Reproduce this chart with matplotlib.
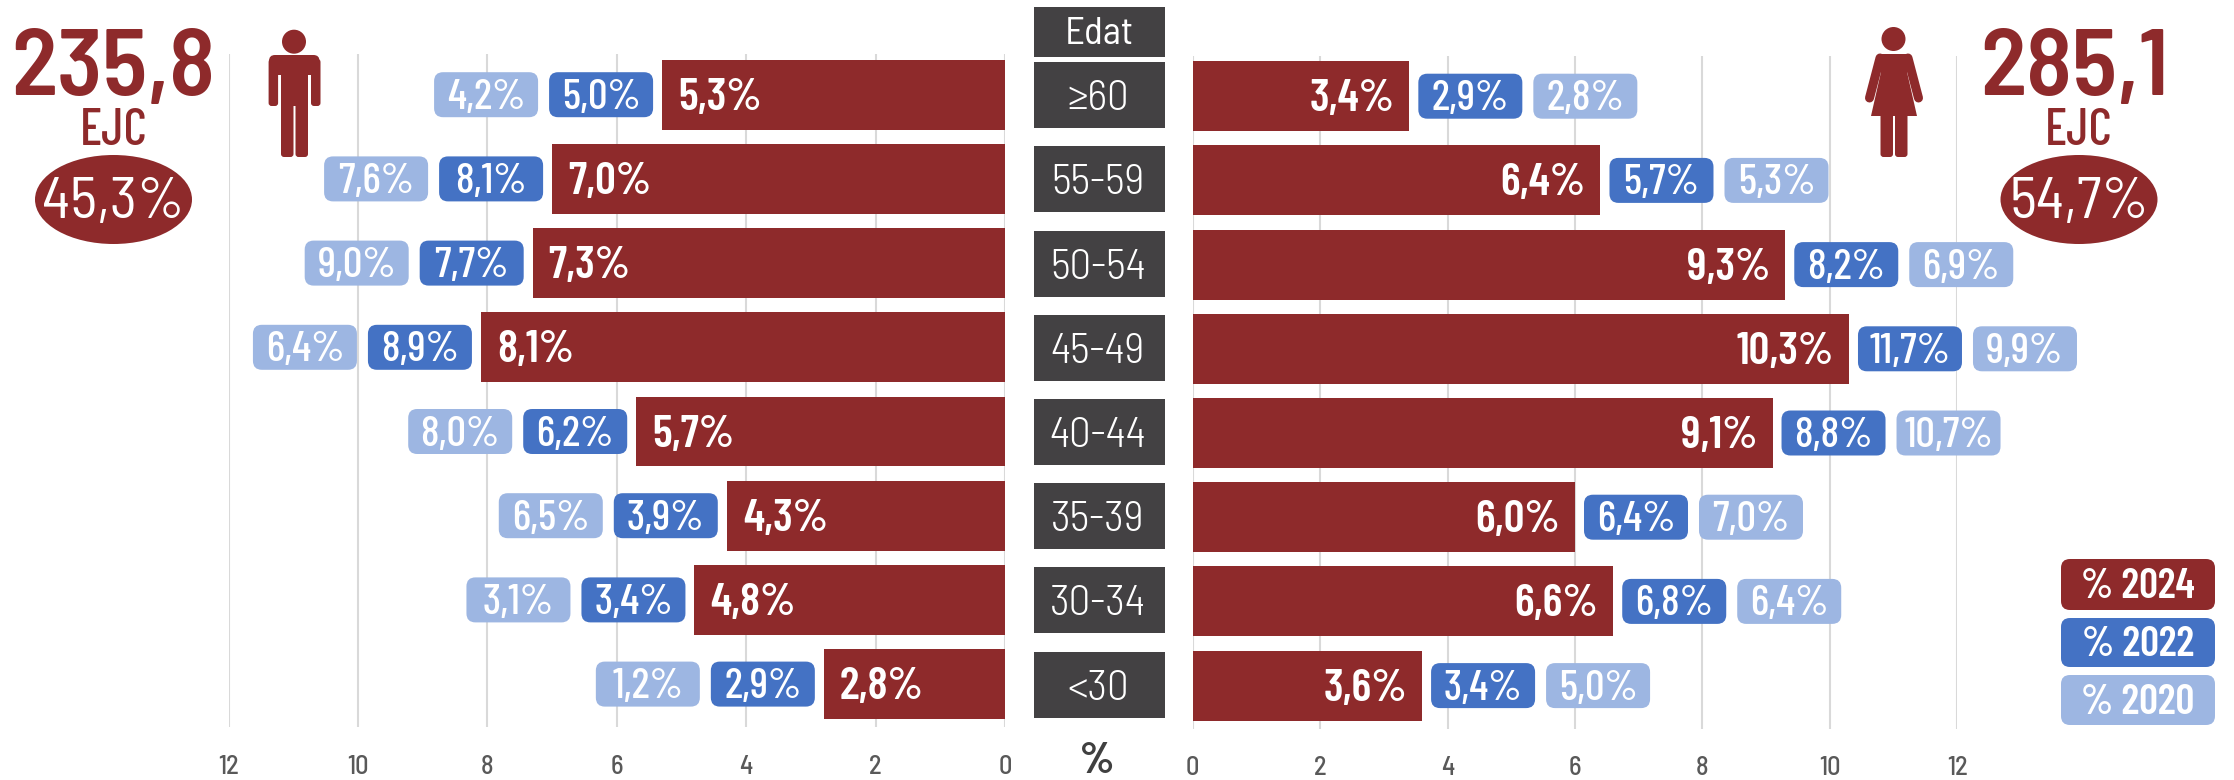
import matplotlib
matplotlib.use("Agg")
import matplotlib.pyplot as plt
from matplotlib.patches import FancyBboxPatch, Ellipse, Circle, Polygon, Rectangle

W, H = 2234, 780
RED = "#8E2A2B"
BLUE = "#4472C4"
LIGHT = "#9DB6E2"
DARK = "#434143"
GRID = "#D9D9D9"
plt.rcParams['font.family'] = ['Barlow Condensed', 'Liberation Sans', 'DejaVu Sans']
SEMI = ['Barlow Semi Condensed', 'Liberation Sans', 'DejaVu Sans']

# dades
edats = ["≥60", "55-59", "50-54", "45-49", "40-44", "35-39", "30-34", "<30"]
homes_2024 = [5.3, 7.0, 7.3, 8.1, 5.7, 4.3, 4.8, 2.8]
homes_2022 = [5.0, 8.1, 7.7, 8.9, 6.2, 3.9, 3.4, 2.9]
homes_2020 = [4.2, 7.6, 9.0, 6.4, 8.0, 6.5, 3.1, 1.2]
dones_2024 = [3.4, 6.4, 9.3, 10.3, 9.1, 6.0, 6.6, 3.6]
dones_2022 = [2.9, 5.7, 8.2, 11.7, 8.8, 6.4, 6.8, 3.4]
dones_2020 = [2.8, 5.3, 6.9, 9.9, 10.7, 7.0, 6.4, 5.0]
ticks = [0, 2, 4, 6, 8, 10, 12]
anys = ["% 2024", "% 2022", "% 2020"]
total_homes, total_dones = "235,8", "285,1"
pct_homes, pct_dones = "45,3%", "54,7%"


def fmt(v):
    return f"{v:.1f}".replace(".", ",") + "%"


fig = plt.figure(figsize=(W / 100, H / 100), dpi=100, facecolor="white")


def make_axes(x0, x1, top, bottom, xlim):
    ax = fig.add_axes([x0 / W, 1 - bottom / H, (x1 - x0) / W, (bottom - top) / H])
    ax.set_xlim(*xlim)
    row0 = top + 40.7
    ax.set_ylim((bottom - row0) / 84.2, (top - row0) / 84.2)
    ax.set_xticks(ticks)
    ax.set_yticks([])
    ax.tick_params(axis="x", length=0, pad=20, labelsize=19, labelcolor="#595959")
    for lab in ax.get_xticklabels():
        lab.set_fontfamily(SEMI)
        lab.set_fontweight(500)
    ax.grid(axis="x", color=GRID, lw=1.5)
    ax.set_axisbelow(True)
    for s in ax.spines.values():
        s.set_visible(False)
    return ax


ax_h = make_axes(228.6, 1005, 54, 727, (12, 0))
ax_d = make_axes(1192.7, 1957.3, 55.5, 728.5, (0, 12))

rows = range(len(edats))
ax_h.barh(rows, homes_2024, height=0.83, color=RED)
ax_d.barh(rows, dones_2024, height=0.83, color=RED)

# capa en pixels per a les etiquetes
ov = fig.add_axes([0, 0, 1, 1], facecolor="none")
ov.set_xlim(0, W)
ov.set_ylim(H, 0)
ov.axis("off")


def to_px(ax, v, i):
    x, y = ax.transData.transform((v, i))
    return x, H - y


def chip(x, yc, txt, col, w=104, h=45, size=31, weight=500):
    ov.add_patch(FancyBboxPatch((x + 7, yc - h / 2 + 7), w - 14, h - 14,
                                boxstyle="round,pad=7,rounding_size=9", fc=col, ec="none"))
    ov.text(x + w / 2, yc + 14, txt, color="white", ha="center", va="baseline", fontsize=size,
            fontweight=weight)


for i in rows:
    x, y = to_px(ax_h, homes_2024[i], i)
    ov.text(x + 16, y + 15, fmt(homes_2024[i]), color="white", fontsize=33, fontweight=600,
            ha="left", va="baseline")
    chip(x - 9 - 104, y, fmt(homes_2022[i]), BLUE)
    chip(x - 9 - 104 - 11 - 104, y, fmt(homes_2020[i]), LIGHT)

    x, y = to_px(ax_d, dones_2024[i], i)
    ov.text(x - 15, y + 15, fmt(dones_2024[i]), color="white", fontsize=33, fontweight=600,
            ha="right", va="baseline")
    chip(x + 9, y, fmt(dones_2022[i]), BLUE)
    chip(x + 9 + 104 + 11, y, fmt(dones_2020[i]), LIGHT)

    # caixa d'edat
    yc = 94.7 + 84.2 * i + 0.5
    ov.add_patch(Rectangle((1034, yc - 33), 131, 66, fc=DARK, ec="none"))
    ov.text(1098, yc + 15, edats[i], color="white", fontsize=31, fontweight=300, ha="center", va="baseline",
            family=SEMI)

ov.add_patch(Rectangle((1034, 7), 131, 50, fc=DARK, ec="none"))
ov.text(1099.5, 44, "Edat", color="white", fontsize=28, fontweight=400, ha="center", va="baseline", family=SEMI)
ov.text(1097, 773, "%", color="#404040", fontsize=32, fontweight=700, ha="center", va="baseline")

# llegenda
for y0, y1, txt, col in [(559, 610, anys[0], RED), (618, 667, anys[1], BLUE), (675, 725, anys[2], LIGHT)]:
    chip(2061, (y0 + y1) / 2, txt, col, w=154, h=y1 - y0, size=30, weight=600)

# totals
for xc, xn, total, pct in [(113.5, 113, total_homes, pct_homes), (2079, 2075, total_dones, pct_dones)]:
    ov.text(xn, 95, total, color=RED, fontsize=68, ha="center", va="baseline", fontweight=600, family=SEMI)
    ov.text(xc, 145, "EJC", color=RED, fontsize=37, ha="center", va="baseline", fontweight=500)
    ov.add_patch(Ellipse((xc, 199.5), 157, 89, fc=RED, ec="none"))
    ov.text(xc, 218, pct, color="white", fontsize=42, ha="center", va="baseline", fontweight=400, family=SEMI)

# home
ov.add_patch(Circle((294, 41.7), 12, fc=RED, ec="none"))
ov.add_patch(FancyBboxPatch((275, 61), 38.5, 8, boxstyle="round,pad=6,rounding_size=6", fc=RED, ec="none"))
ov.add_patch(Rectangle((281, 60), 27, 46, fc=RED, ec="none"))
for x in (268.6, 311):
    ov.add_patch(FancyBboxPatch((x + 3, 62), 3.5, 41, boxstyle="round,pad=3,rounding_size=3", fc=RED, ec="none"))
for x in (281, 295.5):
    ov.add_patch(FancyBboxPatch((x + 3, 100), 6.5, 54, boxstyle="round,pad=3,rounding_size=3", fc=RED, ec="none"))

# dona
ov.add_patch(Circle((1893.5, 39), 12, fc=RED, ec="none"))
ov.add_patch(Polygon([(1878, 54), (1910, 54), (1907, 72), (1917, 116), (1871, 116), (1881, 72)], fc=RED, ec="none"))
ov.plot([1880, 1869.5], [58, 98], color=RED, lw=6.5, solid_capstyle="round")
ov.plot([1908, 1918.5], [58, 98], color=RED, lw=6.5, solid_capstyle="round")
for x in (1880.5, 1895):
    ov.add_patch(FancyBboxPatch((x + 3, 116), 6.5, 38, boxstyle="round,pad=3,rounding_size=3", fc=RED, ec="none"))

fig.savefig("out.png", dpi=100)
